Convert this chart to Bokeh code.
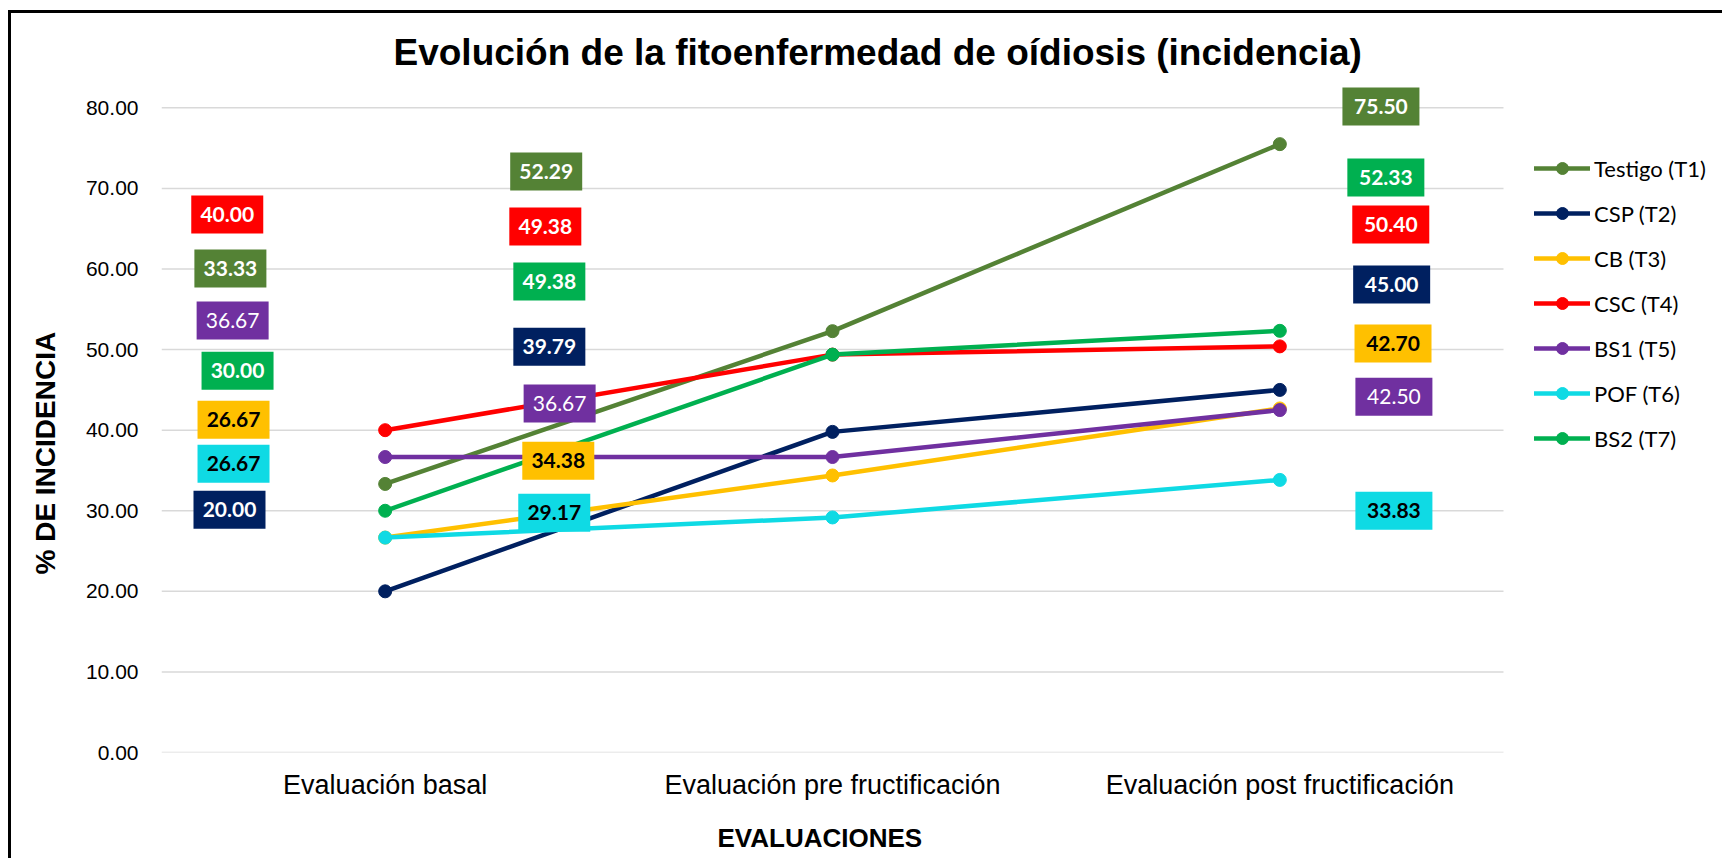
from bokeh.plotting import figure
from bokeh.models import (ColumnDataSource, Range1d, FixedTicker,
                          NumeralTickFormatter, Legend, LegendItem, Title)
from bokeh.core.properties import value
from bokeh.embed import file_html
from bokeh.resources import INLINE

# ---------------- data ----------------
categories = ["Evaluación basal", "Evaluación pre fructificación", "Evaluación post fructificación"]
series_names = ["Testigo (T1)", "CSP (T2)", "CB (T3)", "CSC (T4)", "BS1 (T5)", "POF (T6)", "BS2 (T7)"]
testigo = [33.33, 52.29, 75.50]
csp = [20.00, 39.79, 45.00]
cb = [26.67, 34.38, 42.70]
csc = [40.00, 49.38, 50.40]
bs1 = [36.67, 36.67, 42.50]
pof = [26.67, 29.17, 33.83]
bs2 = [30.00, 49.38, 52.33]
y_ticks = [0, 10, 20, 30, 40, 50, 60, 70, 80]

title_text = "Evolución de la fitoenfermedad de oídiosis (incidencia)"
x_title = "EVALUACIONES"
y_title = "% DE INCIDENCIA"

# ---------------- styles ----------------
colors = ["#548235", "#002060", "#FFC000", "#FF0000", "#7030A0", "#0FDAE4", "#00B050"]
label_text_colors = ["white", "white", "black", "white", "white", "black", "white"]
label_font_styles = ["bold", "bold", "bold", "bold", "normal", "bold", "bold"]

# label layout: offset from own category centre (category units) and height (axis units)
label_dx = [
    [-0.346, -0.640, 0.226],
    [-0.348, -0.633, 0.250],
    [-0.339, -0.613, 0.253],
    [-0.353, -0.642, 0.248],
    [-0.341, -0.610, 0.255],
    [-0.339, -0.622, 0.255],
    [-0.330, -0.633, 0.237],
]
label_y = [
    [60.06, 72.10, 80.17],
    [30.13, 50.37, 58.07],
    [41.31, 36.22, 50.75],
    [66.76, 65.27, 65.52],
    [53.60, 43.30, 44.16],
    [35.85, 29.76, 30.01],
    [47.39, 58.44, 71.36],
]
label_box_w = [72, 72, 77]

series_vals = [testigo, csp, cb, csc, bs1, pof, bs2]
n_cat = len(categories)
cat_x = [i + 0.5 for i in range(n_cat)]  # category centres on the axis scale

W, H = 1714, 848
p = figure(x_range=Range1d(0, n_cat * 1564 / 1342), y_range=Range1d(0, 84.39),
           width=W, height=H, output_backend="svg", toolbar_location=None,
           min_border_left=150, min_border_right=0, min_border_top=59, min_border_bottom=109)
p.styles = {"margin-left": "8px", "margin-top": "10px",
            "border-left": "3px solid black", "border-top": "3px solid black"}
p.outline_line_color = None
p.background_fill_color = "white"
p.border_fill_color = "white"

p.title.text = title_text
p.title.align = "left"
p.title.offset = 232
p.title.standoff = 0
p.title.vertical_align = "bottom"
p.title.text_font = "Liberation Sans"
p.title.text_font_size = "37px"
p.title.text_font_style = "bold"
p.title.text_color = "black"

p.xgrid.visible = False
p.ygrid.visible = False
# horizontal gridlines spanning the category area
p.segment(x0=[0] * len(y_ticks), x1=[n_cat] * len(y_ticks), y0=y_ticks, y1=y_ticks,
          line_color="#d9d9d9", line_width=1.5)

p.yaxis.ticker = FixedTicker(ticks=y_ticks)
p.yaxis.formatter = NumeralTickFormatter(format="0.00")
p.xaxis.ticker = FixedTicker(ticks=cat_x)
p.xaxis.major_label_overrides = {x: c for x, c in zip(cat_x, categories)}
for ax in (p.xaxis[0], p.yaxis[0]):
    ax.axis_line_color = None
    ax.major_tick_line_color = None
    ax.minor_tick_line_color = None
    ax.major_tick_out = 0
    ax.major_tick_in = 0
    ax.major_label_text_font = "Liberation Sans"
    ax.major_label_text_color = "black"
    ax.axis_label = " "
    ax.axis_label_text_font_size = "1px"
p.yaxis.major_label_text_font_size = "21px"
p.yaxis.major_label_standoff = 23
p.yaxis.axis_label_standoff = 18
p.xaxis.major_label_text_font_size = "27px"
p.xaxis.major_label_standoff = 17
p.xaxis.axis_label_standoff = 16

items = []
for name, vals, col in zip(series_names, series_vals, colors):
    src = ColumnDataSource(dict(x=cat_x, y=vals))
    ln = p.line("x", "y", source=src, line_color=col, line_width=4.5, line_cap="round", line_join="round")
    sc = p.scatter("x", "y", source=src, size=13, fill_color=col, line_color=col)
    items.append(LegendItem(label=name, renderers=[ln, sc]))

for i, (vals, col) in enumerate(zip(series_vals, colors)):
    xs = [cx + dx for cx, dx in zip(cat_x, label_dx[i])]
    txt = ["%.2f" % v for v in vals]
    src = ColumnDataSource(dict(x=xs, y=label_y[i], w=label_box_w, t=txt))
    p.rect("x", "y", width="w", height=38, width_units="screen", height_units="screen",
           source=src, fill_color=col, line_color=None)
    p.text("x", "y", text="t", source=src, text_align="center", text_baseline="middle",
           text_font=value("Lato"), text_font_size="21px",
           text_font_style=label_font_styles[i], text_color=label_text_colors[i])

legend = Legend(items=items, location=(1373, 298.7), orientation="vertical",
                label_text_font="Lato", label_text_font_size="22px", label_text_color="black",
                glyph_width=56, glyph_height=30, label_height=30,
                spacing=15, label_standoff=4,
                padding=0, margin=0, border_line_color=None, background_fill_alpha=0)
p.add_layout(legend)

p.add_layout(Title(text=y_title, align="left", offset=178, standoff=0, vertical_align="bottom",
                   text_font="Liberation Sans", text_font_size="28px", text_font_style="bold",
                   text_color="black"), "left")
p.add_layout(Title(text=x_title, align="left", offset=556, standoff=0, vertical_align="top",
                   text_font="Liberation Sans", text_font_size="26px", text_font_style="bold",
                   text_color="black"), "below")

open("out.html", "w").write(file_html(p, INLINE, "chart"))
